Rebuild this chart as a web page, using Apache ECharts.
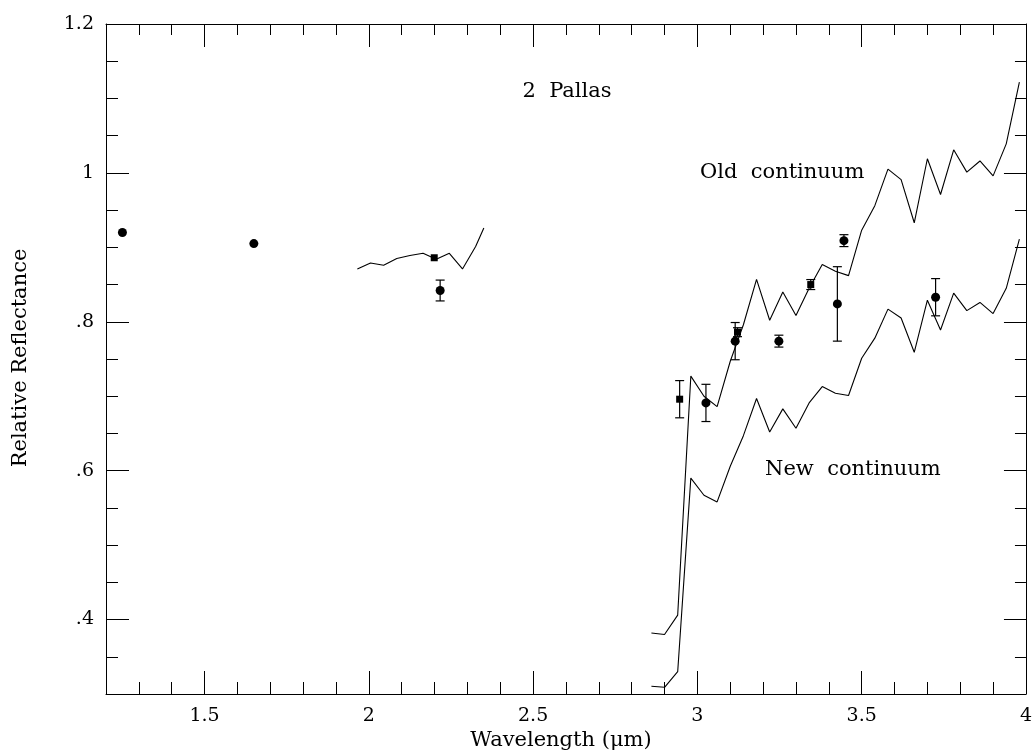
<!DOCTYPE html>
<html>
<head>
<meta charset="utf-8">
<script src="https://cdn.jsdelivr.net/npm/echarts@6/dist/echarts.min.js"></script>
<style>
html,body{margin:0;padding:0;background:#fff;}
#chart{width:1035px;height:753px;}
</style>
</head>
<body>
<div id="chart"></div>
<script>
// ---- data ----
const circleWl   = [1.25, 1.65, 2.217, 3.026, 3.115, 3.248, 3.426, 3.446, 3.725];
const circleRefl = [0.920, 0.905, 0.842, 0.691, 0.774, 0.774, 0.824, 0.909, 0.833];
const circleErr  = [0, 0, 0.014, 0.025, 0.025, 0.008, 0.050, 0.008, 0.025];

const squareWl   = [2.199, 2.946, 3.122, 3.345];
const squareRefl = [0.886, 0.696, 0.786, 0.850];
const squareErr  = [0, 0.025, 0.006, 0.0067];

const shortWl   = [1.965, 2.005, 2.045, 2.085, 2.125, 2.165, 2.205, 2.245, 2.285, 2.325, 2.35];
const shortRefl = [0.871, 0.879, 0.876, 0.885, 0.889, 0.892, 0.884, 0.892, 0.871, 0.901, 0.926];

const contWl = [2.86, 2.90, 2.94, 2.98, 3.02, 3.06, 3.10, 3.14, 3.18, 3.22, 3.26, 3.30, 3.34, 3.38, 3.42,
                3.46, 3.50, 3.54, 3.58, 3.62, 3.66, 3.70, 3.74, 3.78, 3.82, 3.86, 3.90, 3.94, 3.98];
const oldCont = [0.382, 0.380, 0.406, 0.727, 0.700, 0.686, 0.747, 0.796, 0.857, 0.802, 0.840, 0.8085, 0.845, 0.877, 0.868,
                 0.862, 0.923, 0.956, 1.005, 0.991, 0.933, 1.019, 0.971, 1.031, 1.001, 1.016, 0.996, 1.039, 1.122];
const newCont = [0.3105, 0.309, 0.330, 0.590, 0.567, 0.558, 0.606, 0.647, 0.697, 0.652, 0.683, 0.657, 0.691, 0.713, 0.704,
                 0.701, 0.751, 0.778, 0.817, 0.805, 0.759, 0.829, 0.789, 0.8385, 0.815, 0.826, 0.811, 0.845, 0.911];

const xMajorTicks = [1.5, 2, 2.5, 3, 3.5, 4];
const yMajorTicks = [0.4, 0.6, 0.8, 1.0, 1.2];

// ---- chart ----
const FONT = 'DejaVu Serif';
const chart = echarts.init(document.getElementById('chart'), null, {renderer: 'canvas'});

const zip = (a, b, c) => a.map((v, i) => c ? [v, b[i], c[i]] : [v, b[i]]);

function xAx(pos, major, len) {
  const o = {
    type: 'value', position: pos, min: 1.2, max: 4.0, gridIndex: 0,
    splitLine: {show: false},
    axisLine: {show: !major, onZero: false, lineStyle: {color: '#000', width: 1}},
    axisTick: {show: true, inside: true, length: len, lineStyle: {color: '#000', width: 1}},
    axisLabel: {show: false}
  };
  if (major) {
    o.axisTick.customValues = xMajorTicks;
    if (pos === 'bottom') {
      o.axisLabel = {show: true, customValues: xMajorTicks, margin: 13,
        color: '#000', fontFamily: FONT, fontSize: 19, formatter: v => String(v)};
    }
  } else {
    o.interval = 0.1;
  }
  return o;
}
function yAx(pos, major, len) {
  const o = {
    type: 'value', position: pos, min: 0.3, max: 1.2, gridIndex: 0,
    splitLine: {show: false},
    axisLine: {show: !major, onZero: false, lineStyle: {color: '#000', width: 1}},
    axisTick: {show: true, inside: true, length: len, lineStyle: {color: '#000', width: 1}},
    axisLabel: {show: false}
  };
  if (major) {
    o.axisTick.customValues = yMajorTicks;
    if (pos === 'left') {
      o.axisLabel = {show: true, customValues: yMajorTicks, margin: 12,
        color: '#000', fontFamily: FONT, fontSize: 19,
        formatter: v => {
          const s = (Math.round(v * 10) / 10).toString();
          return s.startsWith('0') ? s.slice(1) : s;
        }};
    }
  } else {
    o.interval = 0.05;
  }
  return o;
}

function errBars(x, y, e) {
  return {
    type: 'custom', xAxisIndex: 0, yAxisIndex: 0, z: 3,
    data: zip(x, y, e).filter(d => d[2] > 0),
    renderItem: (params, api) => {
      const xv = api.value(0), yv = api.value(1), ev = api.value(2);
      const t = api.coord([xv, yv + ev]);
      const b = api.coord([xv, yv - ev]);
      const hw = 4.5;
      const st = {stroke: '#000', lineWidth: 1.2};
      return {
        type: 'group',
        children: [
          {type: 'line', shape: {x1: t[0], y1: t[1], x2: b[0], y2: b[1]}, style: st},
          {type: 'line', shape: {x1: t[0] - hw, y1: t[1], x2: t[0] + hw, y2: t[1]}, style: st},
          {type: 'line', shape: {x1: b[0] - hw, y1: b[1], x2: b[0] + hw, y2: b[1]}, style: st}
        ]
      };
    }
  };
}

const lineStyle = {color: '#000', width: 1.1};
const lineSeries = (x, y) => ({
  type: 'line', xAxisIndex: 0, yAxisIndex: 0, data: zip(x, y),
  showSymbol: false, symbol: 'none', lineStyle: lineStyle, z: 2, animation: false
});

const option = {
  animation: false,
  backgroundColor: '#fff',
  grid: {left: 106, right: 6, top: 24, bottom: 59},
  xAxis: [xAx('bottom', false, 12), xAx('bottom', true, 23), xAx('top', false, 11), xAx('top', true, 23)],
  yAxis: [yAx('left', false, 12), yAx('left', true, 23), yAx('right', false, 11), yAx('right', true, 22)],
  series: [
    lineSeries(contWl, oldCont),
    lineSeries(contWl, newCont),
    lineSeries(shortWl, shortRefl),
    errBars(circleWl, circleRefl, circleErr),
    errBars(squareWl, squareRefl, squareErr),
    {type: 'scatter', xAxisIndex: 0, yAxisIndex: 0, data: zip(circleWl, circleRefl),
     symbol: 'circle', symbolSize: 9, itemStyle: {color: '#000', opacity: 1}, z: 4},
    {type: 'scatter', xAxisIndex: 0, yAxisIndex: 0, data: zip(squareWl, squareRefl),
     symbol: 'rect', symbolSize: 7, itemStyle: {color: '#000', opacity: 1}, z: 4}
  ],
  graphic: [
    {type: 'text', x: 567, y: 92,
     style: {text: '2  Pallas', fontFamily: FONT, fontSize: 21, fill: '#000', textAlign: 'center', textVerticalAlign: 'middle'}},
    {type: 'text', x: 700, y: 173,
     style: {text: 'Old  continuum', fontFamily: FONT, fontSize: 21, fill: '#000', textAlign: 'left', textVerticalAlign: 'middle'}},
    {type: 'text', x: 765, y: 470,
     style: {text: 'New  continuum', fontFamily: FONT, fontSize: 21, fill: '#000', textAlign: 'left', textVerticalAlign: 'middle'}},
    {type: 'text', x: 21, y: 358, rotation: Math.PI / 2,
     style: {text: 'Relative Reflectance', fontFamily: FONT, fontSize: 21, fill: '#000', textAlign: 'center', textVerticalAlign: 'middle'}},
    {type: 'text', x: 561, y: 741,
     style: {text: 'Wavelength (μm)', fontFamily: FONT, fontSize: 21, fill: '#000', textAlign: 'center', textVerticalAlign: 'middle'}}
  ]
};
chart.setOption(option);
</script>
</body>
</html>
